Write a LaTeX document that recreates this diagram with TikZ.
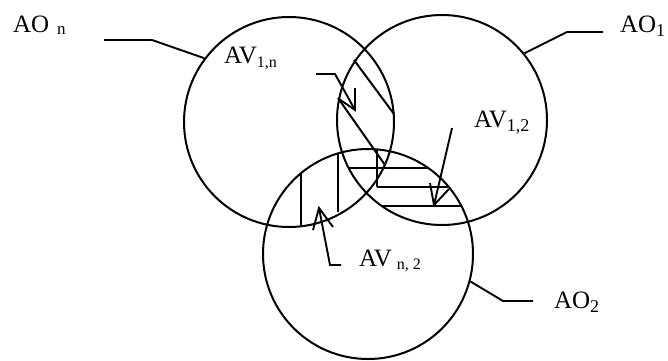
\documentclass[tikz,border=0pt]{standalone}
\usepackage{fontspec}
\setmainfont{Liberation Serif}
\newcommand\mainsz{\fontsize{25}{29}\selectfont}
\newcommand\subtx[3]{\raisebox{-#1pt}{\fontsize{#2}{#2}\selectfont #3}}
\begin{document}
\begin{tikzpicture}[x=1pt,y=-1pt,line width=2pt]
\tikzset{
  ring/.style={circle,draw,line width=2pt,minimum size=210pt,inner sep=0pt},
  lbl/.style={anchor=base west,inner sep=0pt,font=\mainsz},
  hatch/.style={line width=2pt},
  lead/.style={line width=1.9pt}
}
\useasboundingbox (0,0) rectangle (668,360);
\fill[white] (0,0) rectangle (668,360);

% circles
\node[ring] (On) at (289,122) {};
\node[ring] (O1) at (442,120) {};
\node[ring] (O2) at (368,254) {};

% labels
\node[lbl] (aon) at (12,32) {AO\hspace{8pt}\subtx{2}{17}{n}};
\node[lbl] (ao1) at (619,32) {AO\subtx{4}{18}{1}};
\node[lbl] (ao2) at (553,308) {AO\subtx{4}{18}{2}};
\node[lbl] (av1n) at (223,63) {AV\subtx{4}{16}{1,n}};
\node[lbl] (av12) at (473,127) {AV\subtx{4}{18}{1,2}};
\node[lbl] (avn2) at (358,266) {AV\hspace{5pt}\subtx{3}{16}{n, 2}};

% leaders to circles
\coordinate (aonE) at (104,40);
\draw[lead] (On.143) -- (152,40) -- (aonE);
\coordinate (ao1E) at (603,32);
\draw[lead] (O1.39) -- (567,32) -- (ao1E);
\coordinate (ao2E) at (533,301);
\draw[lead] (O2.345) -- (503,301) -- (ao2E);

% hatching n/1
\draw[hatch] (354,60) -- (394,114);
\draw[hatch] (338,98) -- (385,165);
% triple region vertical
\draw[hatch] (377,149) -- (377,187);
% hatching 1/2 (horizontal)
\draw[hatch] (349,168) -- (428,168);
\draw[hatch] (377,187) -- (449,187);
\draw[hatch] (382,206) -- (461,206);
% hatching n/2 (vertical)
\draw[hatch] (301,173) -- (301,227);
\draw[hatch] (338,153) -- (338,212);

% arrow AV_{1,n}
\coordinate (a1s) at (316,74);
\coordinate (a1t) at (355,110);
\draw[lead] (a1s) -- (335,74) -- (a1t);
\draw[lead] (355,88) -- (a1t) -- (339,99);

% arrow AV_{1,2}
\coordinate (a2s) at (452,128);
\coordinate (a2t) at (434,205);
\draw[lead] (a2s) -- (a2t);
\draw[lead] (430,183) -- (a2t) -- (449,189);

% arrow AV_{n,2}
\coordinate (a3s) at (341,265);
\coordinate (a3t) at (319,208);
\draw[lead] (a3s) -- (330,265) -- (a3t);
\draw[lead] (313,230) -- (a3t) -- (333,227);
\end{tikzpicture}
\end{document}
